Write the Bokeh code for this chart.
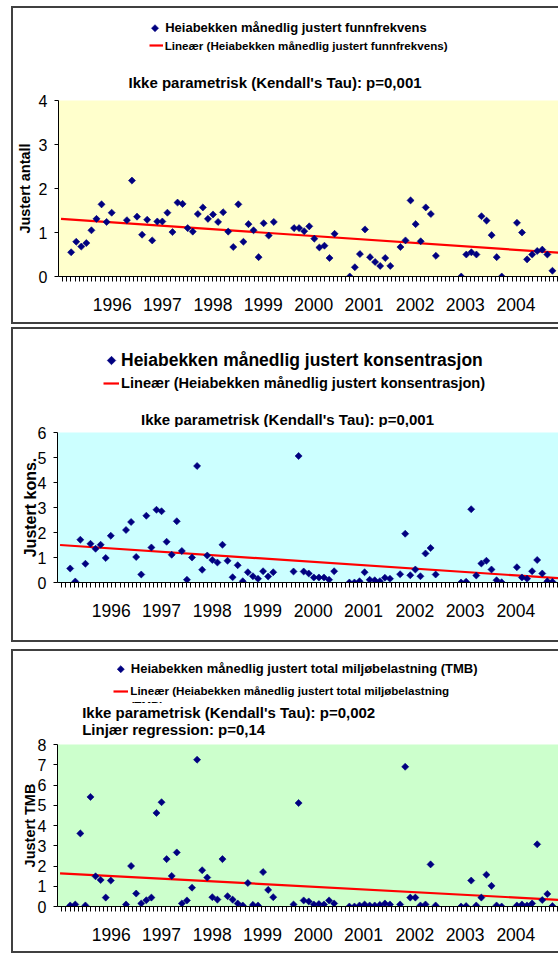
import numpy as np
from bokeh.plotting import figure
from bokeh.models import (Range1d, FixedTicker, CustomJSTickFormatter, Label, Legend,
                          LegendItem)
from bokeh.layouts import column
from bokeh.embed import file_html
from bokeh.resources import INLINE

FONT = "Liberation Sans"
NAVY = "#000080"
RED = "#FF0000"

# ---- data (sample month number) ----
maaned = [0, 1, 2, 3, 4, 5, 6, 7, 8,
          11, 12, 13, 14, 15, 16, 17, 18, 19, 20, 21, 22, 23, 24, 25, 26, 27, 28, 29, 30,
          31, 32, 33, 34, 35, 36, 37, 38, 39, 40,
          44, 45, 46, 47, 48, 49, 50, 51, 52,
          55, 56, 57, 58, 59, 60, 61, 62, 63,
          65, 66, 67, 68, 69, 70, 71, 72,
          77, 78, 79, 80, 81, 82, 83, 84, 85,
          88, 89, 90, 91, 92, 93, 94, 95]

funnfrekvens = [0.55, 0.79, 0.68, 0.76, 1.05, 1.31, 1.64, 1.24, 1.45,
                1.28, 2.18, 1.36, 0.95, 1.29, 0.82, 1.25, 1.25, 1.45, 1.01,
                1.68, 1.65, 1.10, 1.02, 1.42, 1.57, 1.31, 1.41, 1.24, 1.46,
                1.02, 0.67, 1.64, 0.79, 1.19, 1.05, 0.44, 1.21, 0.93, 1.24,
                1.10, 1.10, 1.03, 1.14, 0.86, 0.66, 0.70, 0.42, 0.97,
                0.00, 0.21, 0.51, 1.07, 0.44, 0.33, 0.24, 0.42, 0.24,
                0.67, 0.82, 1.73, 1.19, 0.80, 1.57, 1.42, 0.47,
                0.00, 0.50, 0.55, 0.50, 1.37, 1.27, 0.94, 0.44, 0.00,
                1.22, 1.00, 0.39, 0.50, 0.58, 0.61, 0.50, 0.13]

konsentrasjon = [0.56, 0.04, 1.71, 0.75, 1.55, 1.35, 1.51, 0.98, 1.87,
                 2.10, 2.42, 1.02, 0.32, 2.67, 1.40, 2.91, 2.85, 1.63, 1.11,
                 2.45, 1.26, 0.11, 1.00, 4.66, 0.51, 1.08, 0.90, 0.80, 1.51,
                 0.87, 0.21, 0.69, 0.05, 0.41, 0.25, 0.15, 0.45, 0.24, 0.41,
                 0.44, 5.06, 0.44, 0.36, 0.20, 0.20, 0.20, 0.11, 0.45,
                 0.00, 0.00, 0.05, 0.41, 0.11, 0.09, 0.05, 0.19, 0.15,
                 0.33, 1.95, 0.29, 0.52, 0.25, 1.16, 1.38, 0.32,
                 0.00, 0.03, 2.93, 0.28, 0.76, 0.87, 0.52, 0.09, 0.01,
                 0.61, 0.20, 0.15, 0.45, 0.90, 0.36, 0.05, 0.03]

tmb = [0.05, 0.10, 3.61, 0.05, 5.41, 1.49, 1.31, 0.44, 1.28,
       0.10, 2.00, 0.64, 0.15, 0.31, 0.44, 4.62, 5.15, 2.34, 1.51,
       2.67, 0.15, 0.30, 0.93, 7.25, 1.79, 1.43, 0.46, 0.34, 2.34,
       0.51, 0.34, 0.15, 0.05, 1.16, 0.08, 0.05, 1.70, 0.82, 0.46,
       0.10, 5.11, 0.30, 0.25, 0.10, 0.12, 0.10, 0.30, 0.15,
       0.00, 0.00, 0.05, 0.10, 0.05, 0.05, 0.08, 0.15, 0.10,
       0.10, 6.90, 0.44, 0.44, 0.05, 0.10, 2.08, 0.05,
       0.00, 0.02, 1.28, 0.05, 0.44, 1.57, 1.02, 0.05, 0.00,
       0.05, 0.10, 0.05, 0.15, 3.07, 0.32, 0.62, 0.02]

# linear trend lines (end values)
trend_x = [-2.0, 96.2]
trend_funn = [1.31, 0.54]
trend_kons = [1.50, 0.17]
trend_tmb = [1.64, 0.33]

aar = ["1996", "1997", "1998", "1999", "2000", "2001", "2002", "2003", "2004"]
aar_pos = [8.1, 18.0, 28.0, 37.9, 47.9, 57.8, 67.9, 77.8, 87.8]

y_ticks_funn = [0, 1, 2, 3, 4]
y_ticks_kons = [0, 1, 2, 3, 4, 5, 6]
y_ticks_tmb = [0, 1, 2, 3, 4, 5, 6, 7, 8]

# ---- layout constants (page pixels) ----
X0, X1 = -2.5, 96.2
TICK_STEP = 0.8215
minor = [X0 + n * TICK_STEP for n in range(1, 130) if X0 + n * TICK_STEP <= X1]
CX0, CX1 = 13, 558            # content left / right edge (page px)
W = CX1 - CX0
MBL = 44                      # frame left at page x 57
FX0 = CX0 + MBL               # frame left, page px (header frames are aligned to it)
BORDER = "2px solid #404040"
MSIZE = 5
OVERLAP = 6                   # plot canvas overlaps the header by this much


def make_header(top, hh, leg1, leg1_text, leg2, leg2_text, texts, clipped=None):
    h = figure(width=W, height=hh, output_backend="svg", toolbar_location=None,
               x_range=Range1d(FX0, CX1), y_range=Range1d(top + hh, top),
               x_axis_type=None, y_axis_type=None,
               min_border_left=MBL, min_border_right=0, min_border_top=0, min_border_bottom=0,
               outline_line_color=None, background_fill_color="white",
               border_fill_color="white")
    h.grid.visible = False
    bottom = top + hh

    dx, dy, tx, fs, gw, H, ksize = leg1
    # legend key: rotated square (diamond) drawn at the key position
    h.scatter([dx], [dy], marker="square", angle=np.pi / 4, size=ksize,
              fill_color=NAVY, line_color=NAVY, line_width=0.6)
    key = h.scatter([0], [0], marker="square", size=ksize, fill_alpha=0, line_alpha=0)
    ln = h.line([0, 1], [0, 0], line_color=RED, line_width=2.2)

    x0 = dx - gw / 2.0
    h.add_layout(Legend(items=[LegendItem(label=leg1_text, renderers=[key])],
                        location=(x0 - FX0, bottom - dy - H / 2.0),
                        glyph_width=gw, glyph_height=H, label_height=H,
                        label_standoff=int(round(tx - x0 - gw)), padding=0, margin=0, spacing=0,
                        border_line_color=None, background_fill_alpha=0,
                        label_text_font=FONT, label_text_font_size=fs,
                        label_text_font_style="bold", label_text_color="black"))

    lx0, lx1, ly, tx2, fs2, H2 = leg2
    h.add_layout(Legend(items=[LegendItem(label=leg2_text, renderers=[ln])],
                        location=(lx0 - FX0, bottom - ly - H2 / 2.0),
                        glyph_width=int(round(lx1 - lx0)), glyph_height=H2, label_height=H2,
                        label_standoff=int(round(tx2 - lx1)), padding=0, margin=0, spacing=0,
                        border_line_color=None, background_fill_alpha=0,
                        label_text_font=FONT, label_text_font_size=fs2,
                        label_text_font_style="bold", label_text_color="black"))

    if clipped is not None:
        ctext, cx, cy, cfs, cut = clipped
        h.text(x=[cx], y=[cy], text=[ctext], text_font={"value": FONT}, text_font_size=cfs,
               text_font_style="bold", text_color="black", text_align="left",
               text_baseline="middle")
        h.quad(left=[cx - 4], right=[cx + 60], top=[cut], bottom=[cy + 10],
               fill_color="white", line_color=None)

    for (txt, px, py, fsz, align) in texts:
        h.add_layout(Label(x=px, y=py, text=txt, text_font=FONT, text_font_size=fsz,
                           text_font_style="bold", text_color="black",
                           text_align=align, text_baseline="middle"))
    return h


def make_plot(hgt, mbt, mbb, bg, yticks, values, trend, ytitle, yfs, ystand):
    p = figure(width=W, height=hgt + OVERLAP, output_backend="svg", toolbar_location=None,
               x_range=Range1d(X0, X1), y_range=Range1d(0, yticks[-1]),
               min_border_left=MBL, min_border_right=0,
               min_border_top=mbt + OVERLAP, min_border_bottom=mbb,
               background_fill_color=bg, border_fill_alpha=0,
               outline_line_color=None, margin=(-OVERLAP, 0, 0, 0))
    p.xgrid.visible = False
    p.ygrid.visible = False

    p.line(trend_x, trend, line_color=RED, line_width=2.2)
    p.scatter(maaned, values, marker="square", angle=np.pi / 4, size=MSIZE,
              fill_color=NAVY, line_color=NAVY, line_width=0.6)

    xa = p.xaxis[0]
    xa.ticker = FixedTicker(ticks=aar_pos, minor_ticks=minor)
    xa.formatter = CustomJSTickFormatter(
        args=dict(pos=aar_pos, lab=aar),
        code="const i = pos.findIndex((v) => Math.abs(v - tick) < 1e-6); return i >= 0 ? lab[i] : '';")
    xa.major_tick_out = 0
    xa.major_tick_in = 0
    xa.major_tick_line_color = None
    xa.minor_tick_out = 5
    xa.minor_tick_in = 0
    xa.minor_tick_line_color = "black"
    xa.axis_line_color = "black"
    xa.major_label_standoff = 16
    xa.major_label_text_font = FONT
    xa.major_label_text_font_size = "17.5px"
    xa.major_label_text_color = "black"

    ya = p.yaxis[0]
    ya.ticker = FixedTicker(ticks=yticks, minor_ticks=[])
    ya.major_tick_out = 4
    ya.major_tick_in = 0
    ya.minor_tick_out = 0
    ya.minor_tick_in = 0
    ya.major_tick_line_color = "black"
    ya.axis_line_color = "black"
    ya.major_label_standoff = 7
    ya.major_label_text_font = FONT
    ya.major_label_text_font_size = "16px"
    ya.major_label_text_color = "black"
    ya.axis_label = ytitle
    ya.axis_label_text_font = FONT
    ya.axis_label_text_font_style = "bold"
    ya.axis_label_text_font_size = yfs
    ya.axis_label_text_color = "black"
    ya.axis_label_standoff = ystand
    return p


def wrap(h, p, mt):
    return column(h, p, margin=(mt, 0, 0, 11),
                  styles={"border-top": BORDER, "border-left": BORDER,
                          "border-bottom": BORDER, "box-sizing": "content-box"})


# ---- panel 1 : funnfrekvens ----
h1 = make_header(8, 83,
                 leg1=(153.7, 27.7, 164.4, "13px", 11, 18, MSIZE),
                 leg1_text="Heiabekken månedlig justert funnfrekvens",
                 leg2=(147.7, 162.0, 45.0, 164.4, "11.6px", 16),
                 leg2_text="Lineær (Heiabekken månedlig justert funnfrekvens)",
                 texts=[("Ikke parametrisk (Kendall's Tau): p=0,001", 274, 81.7, "15px", "center")])
p1 = make_plot(231, 9, 46, "#FFFFCC", y_ticks_funn, funnfrekvens, trend_funn,
               "Justert antall", "14.5px", 3)

# ---- panel 2 : konsentrasjon ----
h2 = make_header(329, 98,
                 leg1=(111.0, 360.0, 121.0, "17.5px", 12, 22, 6),
                 leg1_text="Heiabekken månedlig justert konsentrasjon",
                 leg2=(103.0, 119.0, 383.0, 121.0, "14.6px", 18),
                 leg2_text="Lineær (Heiabekken månedlig justert konsentrasjon)",
                 texts=[("Ikke parametrisk (Kendall's Tau): p=0,001", 287, 418.5, "15px", "center")])
p2 = make_plot(213, 5, 58, "#CCFFFF", y_ticks_kons, konsentrasjon, trend_kons,
               "Justert kons.", "16px", -4)

# ---- panel 3 : total miljøbelastning ----
h3 = make_header(651, 88,
                 leg1=(120.3, 668.7, 131.0, "13px", 11, 18, MSIZE),
                 leg1_text="Heiabekken månedlig justert total miljøbelastning (TMB)",
                 leg2=(113.3, 128.3, 690.5, 130.0, "11.6px", 16),
                 leg2_text="Lineær (Heiabekken månedlig justert total miljøbelastning",
                 texts=[("Ikke parametrisk (Kendall's Tau): p=0,002", 81.7, 711.7, "15px", "left"),
                        ("Linjær regression: p=0,14", 81.7, 729.3, "15px", "left")],
                 clipped=("(TMB)", 130.0, 705.0, "11.6px", 702.5))
p3 = make_plot(212, 5, 45, "#CCFFCC", y_ticks_tmb, tmb, trend_tmb,
               "Justert TMB", "14.5px", -3)

layout = column(wrap(h1, p1, 6), wrap(h2, p2, 3), wrap(h3, p3, 7))

with open("out.html", "w", encoding="utf-8") as f:
    f.write(file_html(layout, INLINE))
